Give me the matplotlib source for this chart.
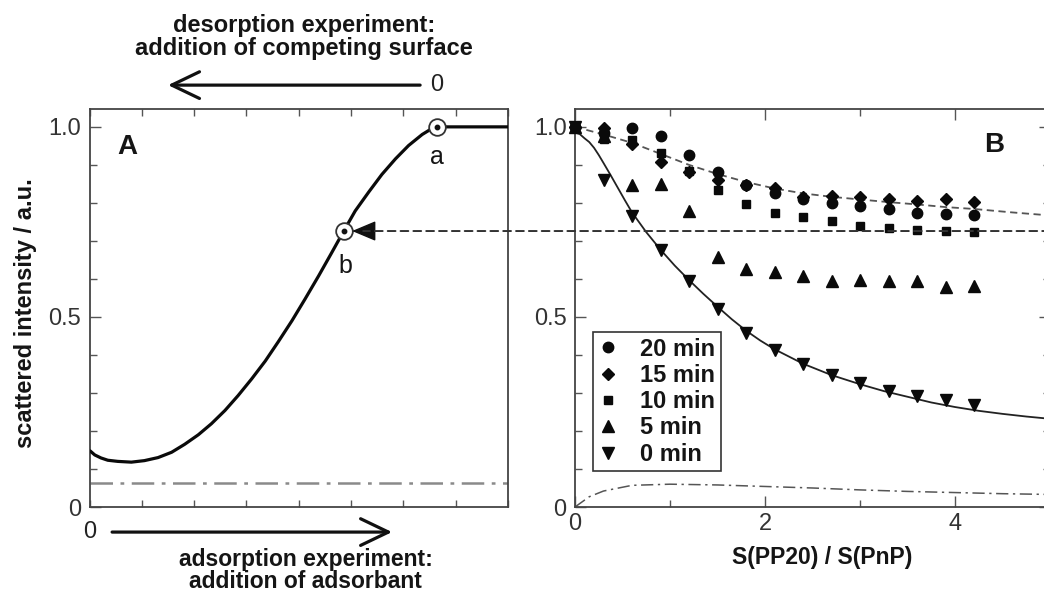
import matplotlib
matplotlib.use("Agg")
import matplotlib.pyplot as plt
from matplotlib.patches import ConnectionPatch
from matplotlib.ticker import MultipleLocator, FixedLocator, NullFormatter

plt.rcParams['font.family'] = ['Liberation Sans', 'DejaVu Sans']

# ---------------- Panel A data ----------------
curve_a_x = [0, 0.10, 0.22, 0.35, 0.54, 0.80, 1.05, 1.31, 1.57, 1.82, 2.08,
             2.33, 2.59, 2.84, 3.10, 3.36, 3.61, 3.87, 4.12, 4.38, 4.63, 4.86,
             5.08, 5.34, 5.59, 5.85, 6.10, 6.36, 6.55, 6.65, 8.0]
curve_a_y = [0.149, 0.137, 0.129, 0.123, 0.120, 0.118, 0.122, 0.130, 0.144,
             0.165, 0.190, 0.219, 0.254, 0.293, 0.337, 0.384, 0.435, 0.490,
             0.547, 0.608, 0.669, 0.726, 0.779, 0.829, 0.875, 0.916, 0.951,
             0.980, 0.996, 1.0, 1.0]
baseline_a_x = [0, 8]
baseline_a_y = [0.062, 0.062]
point_a = (6.65, 1.0)
point_b = (4.86, 0.726)

# ---------------- Panel B data ----------------
ratio = [0, 0.3, 0.6, 0.9, 1.2, 1.5, 1.8, 2.1, 2.4, 2.7, 3.0, 3.3, 3.6, 3.9, 4.2]
i_20min = [1.0, 0.984, 0.997, 0.975, 0.927, 0.881, 0.848, 0.826, 0.811, 0.800,
           0.791, 0.784, 0.774, 0.772, 0.769]
i_15min = [1.0, 0.997, 0.956, 0.907, 0.881, 0.861, 0.846, 0.839, 0.816, 0.818,
           0.815, 0.809, 0.804, 0.811, 0.802]
i_10min = [1.0, 0.968, 0.965, 0.932, 0.883, 0.833, 0.798, 0.774, 0.763, 0.752,
           0.740, 0.734, 0.730, 0.725, 0.723]
i_5min = [1.0, 0.975, 0.846, 0.850, 0.778, 0.658, 0.626, 0.618, 0.607, 0.594,
          0.596, 0.594, 0.594, 0.579, 0.581]
i_0min = [1.0, 0.861, 0.765, 0.677, 0.594, 0.521, 0.458, 0.412, 0.375, 0.346,
          0.326, 0.304, 0.291, 0.281, 0.269]

fit_late_x = [0, 0.3, 0.6, 0.9, 1.2, 1.5, 1.8, 2.1, 2.4, 2.7, 3.0, 3.3, 3.6,
              3.9, 4.2, 4.6, 5.0]
fit_late_y = [1.0, 0.98, 0.958, 0.929, 0.900, 0.876, 0.855, 0.838, 0.825,
              0.816, 0.809, 0.802, 0.796, 0.789, 0.784, 0.775, 0.767]
fit_0_x = [0, 0.05, 0.1, 0.15, 0.2, 0.25, 0.3, 0.375, 0.45, 0.525, 0.6, 0.75,
           0.9, 1.05, 1.2, 1.35, 1.5, 1.65, 1.8, 1.95, 2.1, 2.4, 2.7, 3.0,
           3.25, 3.5, 3.75, 4.0, 4.25, 4.5, 4.75, 5.0]
fit_0_y = [0.985, 0.981, 0.970, 0.960, 0.945, 0.926, 0.905, 0.873, 0.840,
           0.807, 0.775, 0.723, 0.677, 0.635, 0.597, 0.561, 0.527, 0.494,
           0.464, 0.438, 0.415, 0.377, 0.347, 0.323, 0.305, 0.290, 0.275,
           0.263, 0.253, 0.245, 0.238, 0.232]
dd_x = [0, 0.15, 0.3, 0.6, 1.0, 1.5, 2.0, 2.5, 3.0, 3.5, 4.0, 4.5, 5.0]
dd_y = [0, 0.027, 0.042, 0.057, 0.060, 0.058, 0.054, 0.050, 0.045, 0.041,
        0.038, 0.035, 0.033]
level_b = 0.726

series = [("20 min", i_20min, "o", 7.5),
          ("15 min", i_15min, "D", 6.0),
          ("10 min", i_10min, "s", 6.0),
          ("5 min", i_5min, "^", 9.0),
          ("0 min", i_0min, "v", 9.0)]

W, H = 1044, 594
fig = plt.figure(figsize=(W / 100, H / 100), dpi=100)
axA = fig.add_axes([89.5 / W, 87 / H, 418.5 / W, 398 / H])
axB = fig.add_axes([575 / W, 87 / H, 475 / W, 398 / H])

txt = '#151515'
spine_c = '#444444'
for ax in (axA, axB):
    for s in ax.spines.values():
        s.set_color(spine_c)
        s.set_linewidth(1.3)
    ax.set_ylim(0, 1.047)
    ax.yaxis.set_major_locator(FixedLocator([0, 0.5, 1.0]))
    ax.yaxis.set_minor_locator(MultipleLocator(0.1))
    ax.set_yticklabels(['0', '0.5', '1.0'])
    ax.tick_params(which='both', direction='in', color='#555555', width=1.0,
                   labelsize=17, labelcolor='#333333')
    ax.tick_params(which='major', length=8, pad=6)
    ax.tick_params(which='minor', length=5)

# ---------------- Panel A ----------------
axA.set_xlim(0, 8)
axA.xaxis.set_major_locator(MultipleLocator(1))
axA.xaxis.set_major_formatter(NullFormatter())
axA.tick_params(axis='x', which='major', length=5, top=True, bottom=True)
axA.tick_params(axis='y', which='both', left=True, right=False)

axA.plot(curve_a_x, curve_a_y, color='#0a0a0a', lw=2.3, solid_capstyle='butt',
         solid_joinstyle='round', zorder=3)
axA.plot(baseline_a_x, baseline_a_y, color='#8a8a8a', lw=1.8,
         dashes=(9, 3, 1.5, 3), zorder=2)
for p in (point_a, point_b):
    axA.plot([p[0]], [p[1]], marker='o', ms=12, mfc='white', mec='#333333',
             mew=1.3, zorder=5, clip_on=False)
    axA.plot([p[0]], [p[1]], marker='o', ms=3.2, mfc='#111111', mec='#111111',
             zorder=6, clip_on=False)
axA.annotate('a', xy=point_a, xytext=(0, -22), textcoords='offset points',
             ha='center', va='center', fontsize=18, color=txt)
axA.annotate('b', xy=point_b, xytext=(1, -25), textcoords='offset points',
             ha='center', va='center', fontsize=18, color=txt)
axA.text(0.0896, 0.905, 'A', transform=axA.transAxes, fontsize=20,
         fontweight='bold', ha='center', va='center', color=txt)
axA.text(-0.152, 0.487, 'scattered intensity / a.u.', transform=axA.transAxes,
         rotation=90, ha='center', va='center', fontsize=17,
         fontweight='bold', color=txt)

# arrow head pointing at b
axA.annotate('', xy=point_b, xytext=(26, 0), textcoords='offset pixels',
             arrowprops=dict(arrowstyle='-|>,head_length=1.0,head_width=0.42',
                             mutation_scale=15, color='#111111', lw=1.0,
                             shrinkA=0, shrinkB=6), zorder=6)
# dashed line from right edge of B to b
con = ConnectionPatch(xyA=(5.0, level_b), coordsA=axB.transData,
                      xyB=point_b, coordsB=axA.transData,
                      color='#333333', lw=1.4, linestyle=(0, (4, 2.6)),
                      shrinkA=0, shrinkB=14, zorder=4)
fig.add_artist(con)

# top / bottom experiment arrows and captions
arrow_kw = dict(arrowstyle='->,head_length=1.0,head_width=0.48', lw=2.3,
                color='#111111', mutation_scale=20, shrinkA=0, shrinkB=0)
axA.annotate('', xy=(0.1876, 1.06), xytext=(0.79, 1.06), xycoords='axes fraction',
             arrowprops=arrow_kw, annotation_clip=False)
axA.annotate('', xy=(0.723, -0.063), xytext=(0.054, -0.063),
             xycoords='axes fraction', arrowprops=arrow_kw, annotation_clip=False)
axA.text(0.830, 1.06, '0', transform=axA.transAxes, fontsize=17,
         ha='center', va='center', color='#222222')
axA.text(0.0, -0.063, '0', transform=axA.transAxes, fontsize=17,
         ha='center', va='center', color='#222222')
axA.text(0.5125, 1.181, 'desorption experiment:\naddition of competing surface',
         transform=axA.transAxes, fontsize=17, fontweight='bold',
         ha='center', va='center', ma='center', linespacing=0.95, color=txt)
axA.text(0.517, -0.16, 'adsorption experiment:\naddition of adsorbant',
         transform=axA.transAxes, fontsize=16.5, fontweight='bold',
         ha='center', va='center', ma='center', linespacing=0.92, color=txt)

# ---------------- Panel B ----------------
axB.set_xlim(0, 5)
axB.xaxis.set_major_locator(FixedLocator([0, 2, 4]))
axB.xaxis.set_minor_locator(FixedLocator([1, 3]))
axB.tick_params(axis='both', which='both', top=True, right=True)
axB.tick_params(axis='x', which='major', pad=4)

axB.plot(fit_late_x, fit_late_y, color='#555555', lw=1.3, dashes=(4, 2.5), zorder=2)
axB.plot(fit_0_x, fit_0_y, color='#222222', lw=1.3, zorder=2)
axB.plot(dd_x, dd_y, color='#555555', lw=1.1, dashes=(8, 3, 1.5, 3), zorder=2)

for label, vals, mk, ms in series:
    axB.plot(ratio, vals, linestyle='none', marker=mk, ms=ms, color='#0a0a0a',
             mec='#0a0a0a', label=label, zorder=4, clip_on=False)

leg = axB.legend(loc='lower left', bbox_to_anchor=(0.038, 0.0905),
                 borderaxespad=0, frameon=True, fancybox=False, framealpha=1,
                 edgecolor='#333333', handlelength=0.85, handletextpad=0.93,
                 labelspacing=0.14, borderpad=0.22,
                 prop=dict(size=17, weight='bold'))
leg.get_frame().set_linewidth(1.2)
for t in leg.get_texts():
    t.set_color(txt)

axB.text(0.882, 0.91, 'B', transform=axB.transAxes, fontsize=20,
         fontweight='bold', ha='center', va='center', color=txt)
axB.text(0.52, -0.128, 'S(PP20) / S(PnP)', transform=axB.transAxes,
         fontsize=16.5, fontweight='bold', ha='center', va='center', color=txt)

fig.savefig('out.png', dpi=100)
